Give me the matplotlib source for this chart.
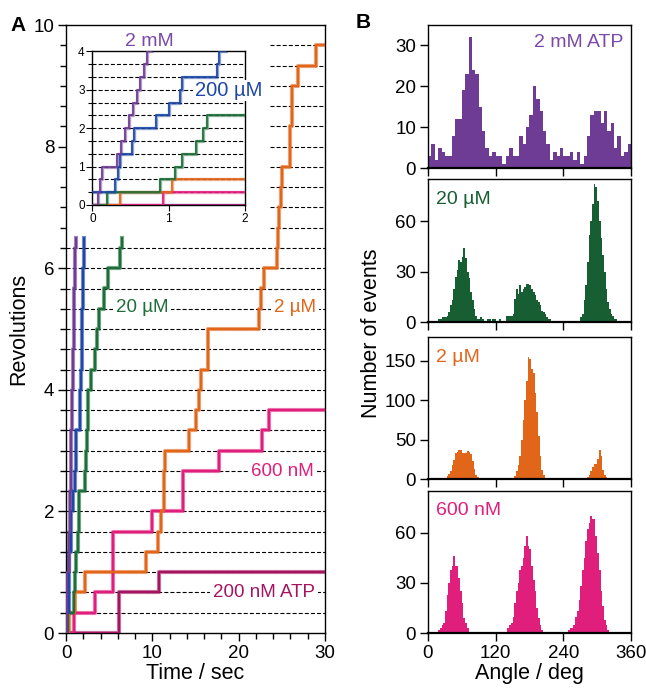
import numpy as np
import matplotlib
matplotlib.use('Agg')
import matplotlib.pyplot as plt
from matplotlib.ticker import MultipleLocator

plt.rcParams['font.family'] = ['Liberation Sans', 'DejaVu Sans']
plt.rcParams['lines.scale_dashes'] = False

# ---- panel A: rotation traces (time in s, revolutions) ----
t_200nM = [0, 6.1, 10.8, 30]
rev_200nM = [0, 0.667, 1.0, 1.0]

t_600nM = [0, 0.92, 3.4, 5.4, 10.0, 13.6, 17.7, 22.7, 23.5, 30]
rev_600nM = [0, 0.333, 0.667, 1.667, 2.0, 2.667, 3.0, 3.333, 3.667, 3.667]

t_2uM = [0, 0.36, 1.04, 2.2, 9.25, 10.6, 11.0, 11.3, 11.4, 11.5, 14.2, 15.0, 15.4,
         15.6, 16.5, 22.3, 22.6, 22.9, 24.4, 24.55, 24.7, 24.85, 25.0, 26.0, 26.15,
         26.9, 28.9, 30]
rev_2uM = [0, 0.333, 0.667, 1.0, 1.333, 1.667, 2.0, 2.333, 2.667, 3.0, 3.333, 3.667, 4.0,
           4.333, 5.0, 5.333, 5.667, 6.0, 6.333, 6.667, 7.0, 7.333, 7.667, 8.333, 9.0,
           9.333, 9.667, 9.667]

t_20uM = [0, 0.19, 0.89, 1.08, 1.18, 1.36, 1.45, 1.5, 2.25, 2.35, 2.45, 2.55, 2.6,
          2.95, 3.3, 3.55, 3.85, 4.4, 4.9, 6.25, 6.45]
rev_20uM = [0, 0.333, 0.667, 1.0, 1.333, 1.667, 2.0, 2.333, 2.667, 3.0, 3.333, 3.667, 4.0,
            4.333, 4.667, 5.0, 5.333, 5.667, 6.0, 6.333, 6.5]

t_200uM = [0, 0.3, 0.33, 0.36, 0.52, 0.55, 0.83, 1.01, 1.15, 1.18, 1.63, 1.66, 1.75,
           1.8, 1.85, 1.9, 1.95, 2.0, 2.05, 2.1]
rev_200uM = [0.333, 0.667, 1.0, 1.333, 1.667, 2.0, 2.333, 2.667, 3.0, 3.333, 3.667, 4.0,
             4.333, 4.667, 5.0, 5.333, 5.667, 6.0, 6.333, 6.5]

t_2mM = [0, 0.07, 0.1, 0.13, 0.32, 0.38, 0.43, 0.48, 0.53, 0.59, 0.63, 0.68, 0.72,
         0.78, 0.84, 0.88, 0.93, 0.98, 1.03, 1.08, 1.12]
rev_2mM = [0, 0.333, 0.667, 1.0, 1.333, 1.667, 2.0, 2.333, 2.667, 3.0, 3.333, 3.667, 4.0,
           4.333, 4.667, 5.0, 5.333, 5.667, 6.0, 6.333, 6.5]

t_ctrl = [0, 2]
rev_ctrl = [0, 0]

# ---- panel B: angle histograms ----
counts_2mM = [3, 6, 2, 5, 4, 3, 3, 8, 12, 12, 19, 23, 32, 24, 23, 15, 9, 5, 3, 4,
              3, 3, 1, 3, 5, 3, 3, 8, 6, 10, 13, 20, 17, 14, 9, 6, 2, 4, 3, 5,
              3, 3, 4, 2, 4, 1, 3, 8, 13, 14, 14, 11, 14, 9, 11, 5, 8, 3, 4, 6]
counts_20uM = [1, 1, 1, 0, 0, 0, 2, 2, 3, 3,
               3, 4, 6, 10, 13, 20, 27, 31, 37, 36, 39, 44, 38, 30, 26, 18, 13, 8, 4, 2,
               2, 3, 2, 1, 1, 2, 2, 1, 2, 2, 1,
               1, 2, 0, 0, 0,
               4, 4, 4, 4, 5,
               14, 20, 17, 22, 18, 20, 21, 23, 23, 22, 20, 18, 16, 13, 12, 10, 7, 6, 5, 3, 2, 2, 1,
               0, 0, 0, 0, 0, 0, 0, 0, 0, 0, 0,
               1, 1, 0, 0, 0,
               3, 5, 13, 22, 36, 52, 60, 70, 82, 80, 72, 60, 50, 40, 30, 20, 12, 8, 5, 4, 2, 2,
               1, 0, 0, 0, 0, 0, 1, 1]
counts_2uM = [0, 0, 0, 0, 0, 0, 0, 0,
              1, 1, 2, 4, 7, 10, 18, 25, 33, 35, 37, 37, 33, 33, 34, 36, 35, 32, 23, 13, 6, 3, 2, 1, 1,
              0, 0, 0, 0, 0, 0, 0, 0, 0, 0, 0, 0, 0, 0,
              1, 1, 1, 2, 4, 10, 18, 30, 50, 75, 100, 125, 155, 152, 140, 135, 110, 85, 55, 30, 12, 5, 2, 1,
              0, 0, 0, 0, 0, 0, 0, 0, 0, 0, 0, 0, 0, 0, 0, 0, 0, 0, 0,
              1, 2, 2, 2, 3, 6, 10, 15, 20, 20, 26, 37, 30, 12, 5, 3, 2, 1,
              0, 0, 0, 0, 0, 0, 0, 0, 0, 0, 0, 0]
counts_600nM = [0, 0, 0, 0,
                1, 1, 2, 3, 5, 6, 13, 23, 30, 38, 40, 46, 40, 40, 33, 25, 18, 9, 6, 3, 1, 1, 1, 1,
                0, 0, 0, 0, 0, 0, 0, 0, 0, 0, 0, 0, 0,
                1, 1, 0,
                1, 1, 1, 3, 5, 6, 10, 18, 25, 30, 38, 40, 45, 52, 58, 52, 50, 40, 32, 25, 15, 9, 5, 2, 1,
                1, 1,
                0, 0, 0, 0, 0, 0, 0, 0, 0,
                1, 1, 1, 2, 3, 3, 5, 10, 13, 20, 28, 38, 45, 55, 62, 66, 70, 68, 68, 58, 48, 38, 25, 16, 8, 5, 2, 1, 1,
                0, 0, 1, 1, 0, 0, 0, 1, 1, 1, 1]

c_purple = '#6E3C94'
c_blue = '#1F47A6'
c_green = '#1D6E3A'
c_orange = '#E2661A'
c_pink = '#E01F7C'
c_magenta = '#A5145F'
c_cyan = '#35ACDF'

fig = plt.figure(figsize=(6.46, 6.88), dpi=100)

# ---------------- panel A ----------------
axA = fig.add_axes([0.1022, 0.0799, 0.4009, 0.8837])
axI = fig.add_axes([0.1429, 0.7021, 0.2364, 0.2232])

for k in range(1, 30):
    x0 = 0 if k <= 19 else 23.6
    axA.hlines(k / 3, x0, 30, colors='black', linestyles=(0, (2.9, 1.5)), lw=0.8, zorder=1)
for k in range(1, 12):
    axI.hlines(k / 3, 0, 2, colors='black', linestyles=(0, (2.9, 1.5)), lw=0.8, zorder=1)

traces = [(t_ctrl, rev_ctrl, c_cyan), (t_200nM, rev_200nM, c_magenta),
          (t_600nM, rev_600nM, c_pink), (t_2uM, rev_2uM, c_orange),
          (t_20uM, rev_20uM, c_green), (t_200uM, rev_200uM, c_blue),
          (t_2mM, rev_2mM, c_purple)]
for t, r, c in traces:
    if c != c_cyan:
        # band around the trace stands in for the noise of the raw data
        axA.step(t, r, where='post', color=c, lw=3.0, alpha=0.6, zorder=2)
        axA.step(t, r, where='post', color=c, lw=1.5, zorder=3)
    axI.step(t, r, where='post', color=c, lw=2.4, alpha=0.5, zorder=2)
    axI.step(t, r, where='post', color=c, lw=1.2, zorder=3)

axA.set_xlim(0, 30)
axA.set_ylim(0, 10)
axA.set_xticks([0, 10, 20, 30])
axA.xaxis.set_minor_locator(MultipleLocator(2))
axA.set_yticks([0, 2, 4, 6, 8, 10])
axA.yaxis.set_minor_locator(MultipleLocator(1 / 3))
axA.tick_params(which='major', direction='out', length=6, width=1, labelsize=13.5, pad=2.5)
axA.tick_params(which='minor', direction='out', length=4.5, width=1)
axA.set_xlabel('Time / sec', fontsize=15.5, labelpad=1)
axA.set_ylabel('Revolutions', fontsize=15.5, labelpad=3)

axI.set_xlim(0, 2)
axI.set_ylim(0, 4)
axI.set_xticks([0, 1, 2])
axI.set_yticks([0, 1, 2, 3, 4])
axI.yaxis.set_minor_locator(MultipleLocator(1 / 3))
axI.tick_params(which='major', direction='out', length=4, width=0.8, labelsize=8.5, pad=1.5)
axI.tick_params(which='minor', direction='out', length=3, width=0.8)
axI.set_facecolor('white')

box = dict(facecolor='white', edgecolor='none', pad=2)
axA.text(8.8, 5.35, '20 µM', color=c_green, fontsize=13.5, ha='center', va='center', bbox=box, zorder=4)
axA.text(26.5, 5.35, '2 µM', color=c_orange, fontsize=13.5, ha='center', va='center', bbox=box, zorder=4)
axA.text(25.1, 2.65, '600 nM', color=c_pink, fontsize=13.5, ha='center', va='center', bbox=box, zorder=4)
axA.text(22.9, 0.66, '200 nM ATP', color=c_magenta, fontsize=13.5, ha='center', va='center', bbox=box, zorder=4)
axI.text(1.78, 2.98, '200 µM', color=c_blue, fontsize=14.5, ha='center', va='center',
         bbox=dict(facecolor='white', edgecolor='none', pad=1), zorder=5, clip_on=False)
fig.text(0.232, 0.9394, '2 mM', color='#7B4AA8', fontsize=14, ha='center', va='center')

for ax in (axA, axI):
    for s in ax.spines.values():
        s.set_linewidth(1.0)

# ---------------- panel B ----------------
hist_sets = [(counts_2mM, 6, c_purple, 35, [0, 10, 20, 30], '2 mM ATP'),
             (counts_20uM, 3, '#175E33', 85, [0, 30, 60], '20 µM'),
             (counts_2uM, 3, c_orange, 180, [0, 50, 100, 150], '2 µM'),
             (counts_600nM, 3, c_pink, 85, [0, 30, 60], '600 nM')]
hist_pos = [[0.6625, 0.7554, 0.3142, 0.2083],
            [0.6625, 0.5315, 0.3142, 0.2083],
            [0.6625, 0.3033, 0.3142, 0.2064],
            [0.6625, 0.0795, 0.3142, 0.2073]]

for i, (counts, bw, col, ymax, yt, lab) in enumerate(hist_sets):
    ax = fig.add_axes(hist_pos[i])
    edges = np.arange(0, 360, bw)
    ax.bar(edges, counts, width=bw, align='edge', color=col, linewidth=0)
    ax.set_xlim(0, 360)
    ax.set_ylim(0, ymax)
    ax.set_xticks([0, 120, 240, 360])
    ax.set_yticks(yt)
    ax.tick_params(direction='out', length=6, width=1, labelsize=13.5, pad=2.5)
    for s in ax.spines.values():
        s.set_linewidth(1.0)
    ax.spines['bottom'].set_linewidth(1.6)
    if i < 3:
        ax.set_xticklabels([])
    else:
        ax.set_xlabel('Angle / deg', fontsize=15.5, labelpad=1)
    if i == 0:
        ax.text(0.965, 0.88, lab, transform=ax.transAxes, color='#7B4AA8', fontsize=14,
                ha='right', va='center')
    else:
        ax.text(0.04, 0.86, lab, transform=ax.transAxes, color=col, fontsize=14,
                ha='left', va='center')

fig.text(0.575, 0.516, 'Number of events', rotation=90, fontsize=15.5, ha='center', va='center')
fig.text(0.028, 0.963, 'A', fontsize=15, fontweight='bold', ha='center', va='center')
fig.text(0.562, 0.968, 'B', fontsize=15, fontweight='bold', ha='center', va='center')

fig.savefig('out.png', dpi=100)
